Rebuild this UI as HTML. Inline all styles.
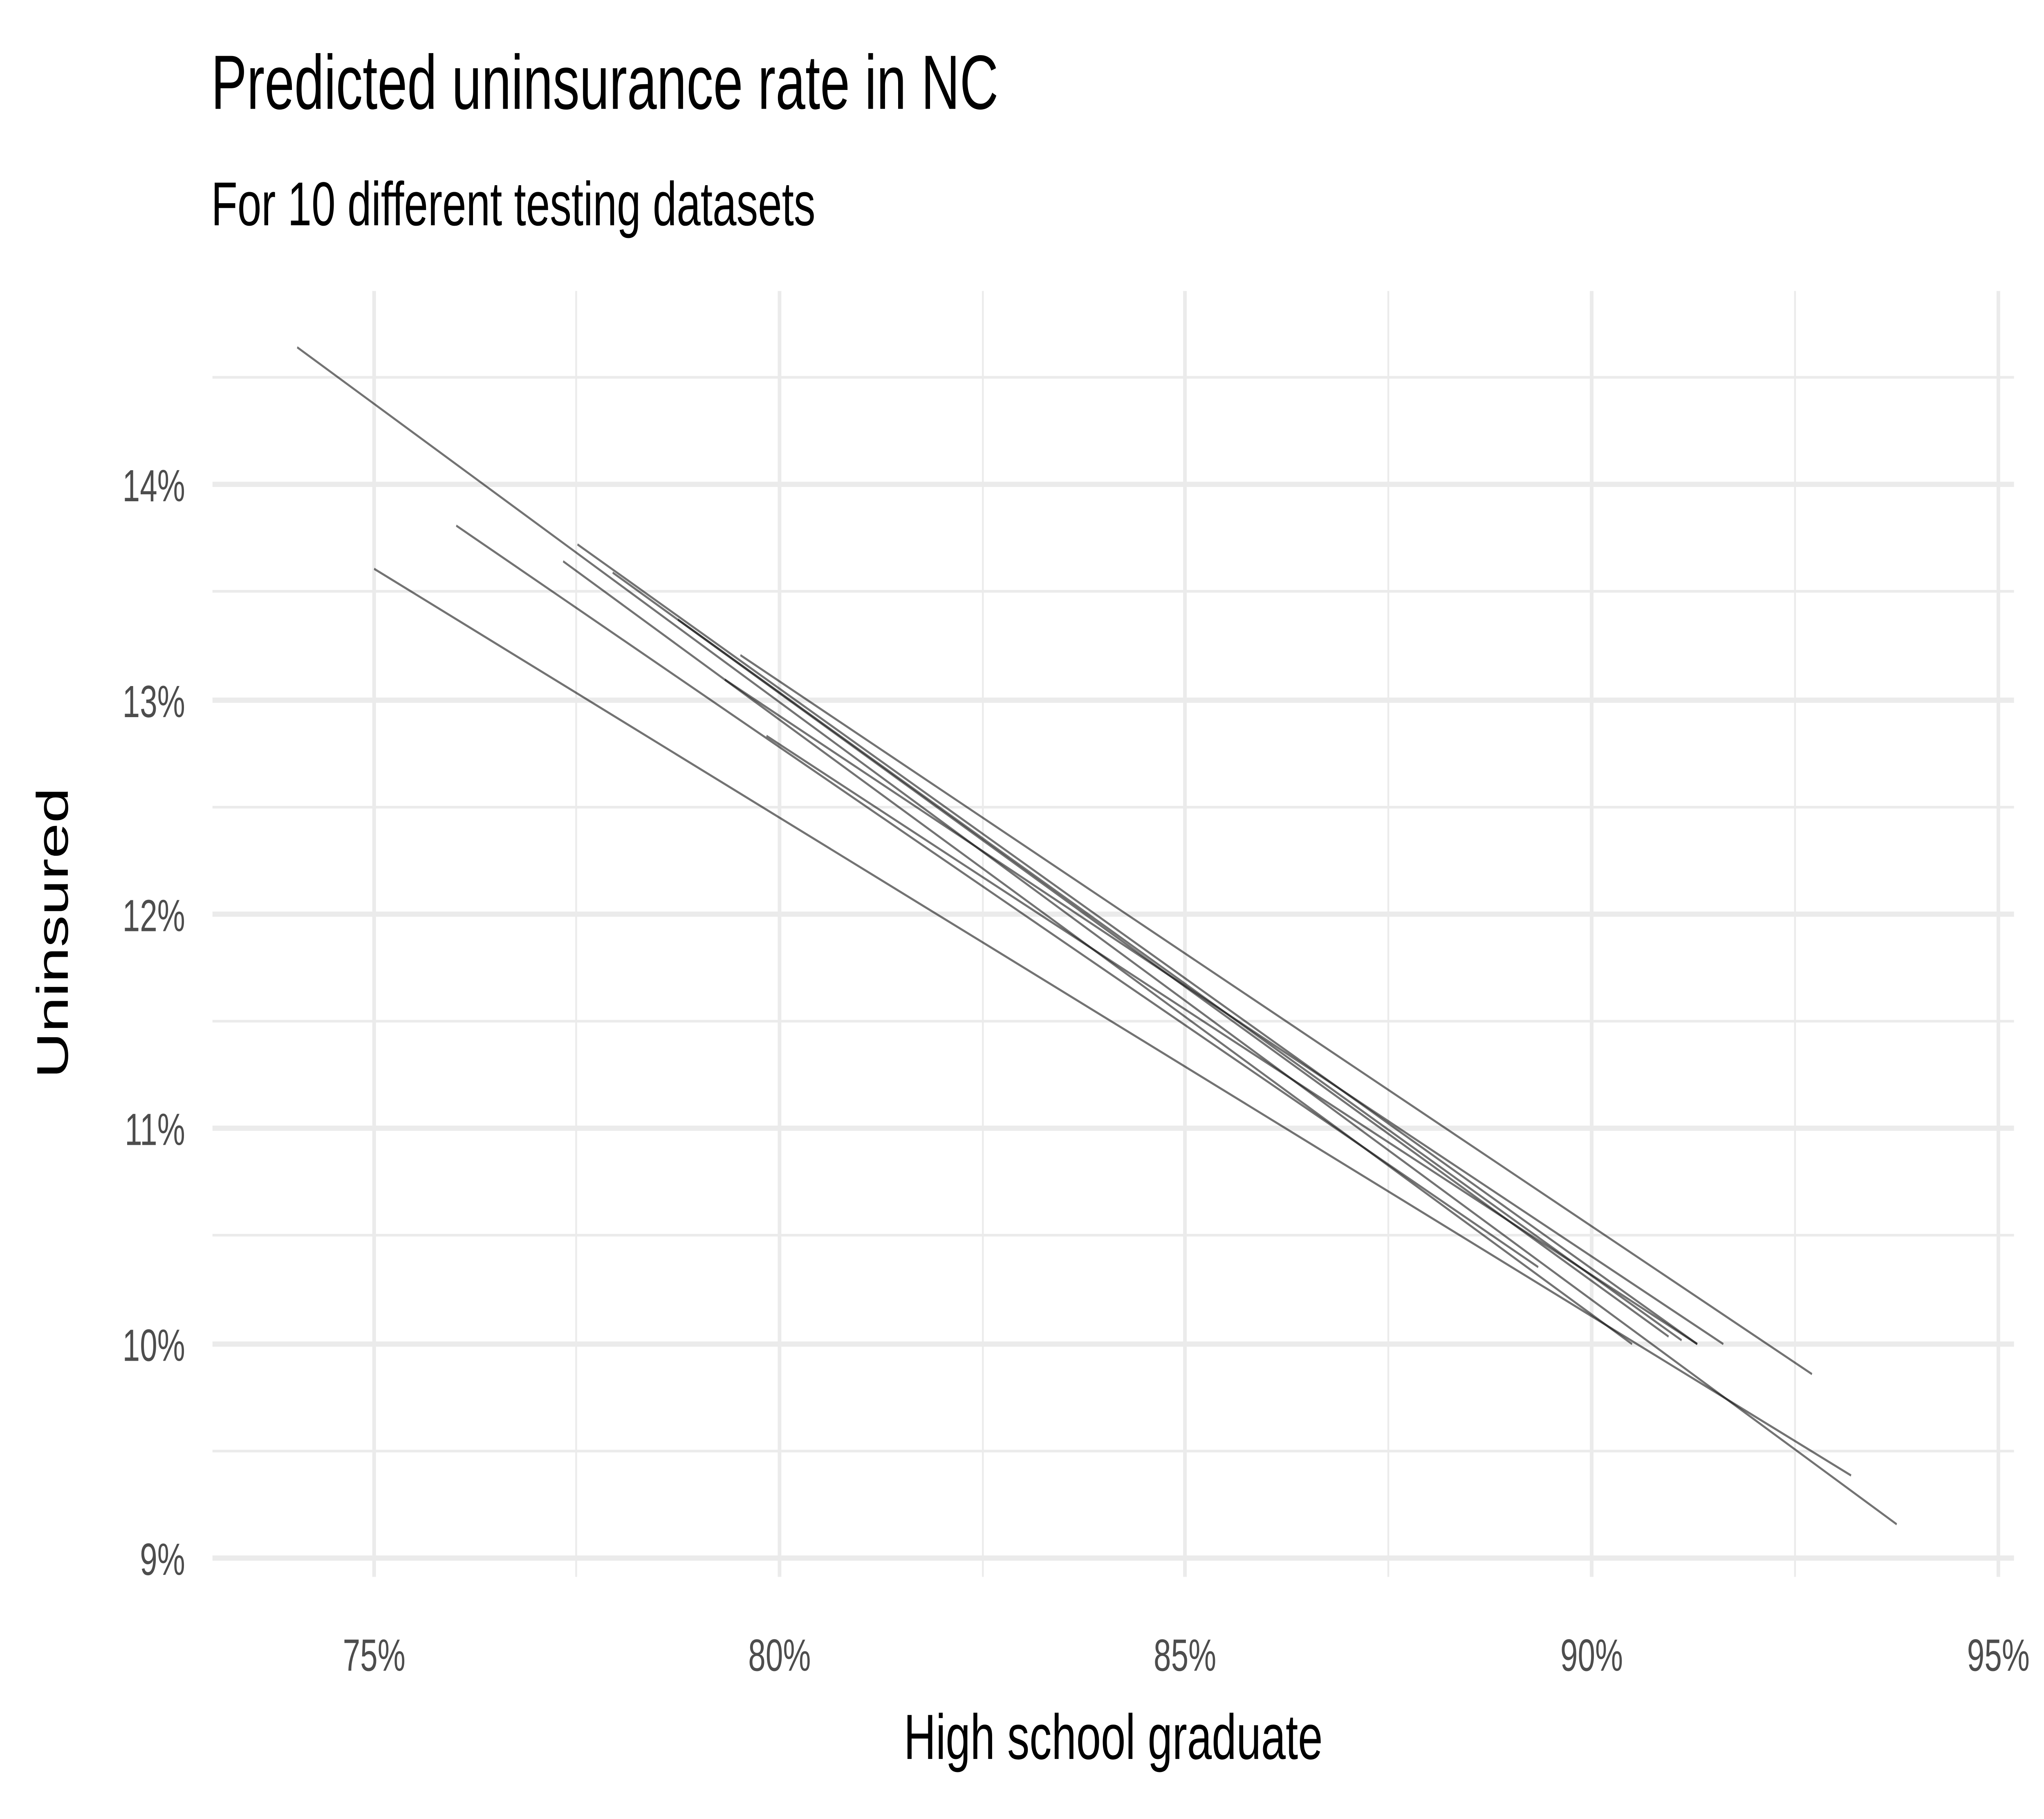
<!DOCTYPE html>
<html><head><style>html,body{margin:0;padding:0;background:#fff;width:100%;height:100%;overflow:hidden}svg{display:block;position:absolute;left:0;top:0;width:100vw;height:100vh}</style></head><body>
<svg viewBox="0 0 1568 969" preserveAspectRatio="none" xmlns="http://www.w3.org/2000/svg" font-family="Liberation Sans, Arial, sans-serif">
<g stroke="#ebebeb" stroke-width="1.4">
<line x1="442" y1="155" x2="442" y2="840"/><line x1="754" y1="155" x2="754" y2="840"/><line x1="1065" y1="155" x2="1065" y2="840"/><line x1="1377" y1="155" x2="1377" y2="840"/>
<line x1="163" y1="201" x2="1545" y2="201"/><line x1="163" y1="315" x2="1545" y2="315"/><line x1="163" y1="430" x2="1545" y2="430"/><line x1="163" y1="544" x2="1545" y2="544"/><line x1="163" y1="658" x2="1545" y2="658"/><line x1="163" y1="773" x2="1545" y2="773"/>
</g>
<g stroke="#ebebeb" stroke-width="2.8">
<line x1="287" y1="155" x2="287" y2="840"/><line x1="598" y1="155" x2="598" y2="840"/><line x1="909" y1="155" x2="909" y2="840"/><line x1="1221" y1="155" x2="1221" y2="840"/><line x1="1533" y1="155" x2="1533" y2="840"/>
<line x1="163" y1="258" x2="1545" y2="258"/><line x1="163" y1="373" x2="1545" y2="373"/><line x1="163" y1="487" x2="1545" y2="487"/><line x1="163" y1="601" x2="1545" y2="601"/><line x1="163" y1="716" x2="1545" y2="716"/><line x1="163" y1="830" x2="1545" y2="830"/>
</g>
<g stroke="#000" stroke-opacity="0.55" stroke-width="1.2">
<line x1="228" y1="185" x2="1455" y2="812"/>
<line x1="287" y1="303" x2="1420" y2="786"/>
<line x1="350" y1="280" x2="1180" y2="675"/>
<line x1="432" y1="299" x2="1252" y2="716"/>
<line x1="443" y1="290" x2="1302" y2="716"/>
<line x1="556" y1="362" x2="1322" y2="716"/>
<line x1="568" y1="349" x2="1390" y2="732"/>
<line x1="588" y1="392" x2="1302" y2="716"/>
<line x1="470" y1="305" x2="1280" y2="712"/>
<line x1="520" y1="330" x2="1290" y2="714"/>
</g>
<g fill="#4d4d4d" font-size="24" text-anchor="end">
<text x="142" y="267">14%</text><text x="142" y="382">13%</text><text x="142" y="496">12%</text><text x="142" y="610">11%</text><text x="142" y="725">10%</text><text x="142" y="839">9%</text>
</g>
<g fill="#4d4d4d" font-size="24" text-anchor="middle">
<text x="287" y="890">75%</text><text x="598" y="890">80%</text><text x="909" y="890">85%</text><text x="1221" y="890">90%</text><text x="1533" y="890">95%</text>
</g>
<text x="854" y="937" font-size="34" text-anchor="middle">High school graduate</text>
<text transform="translate(52,497) rotate(-90)" font-size="34" text-anchor="middle">Uninsured</text>
<text x="162" y="58" font-size="41">Predicted uninsurance rate in NC</text>
<text x="162" y="120" font-size="33">For 10 different testing datasets</text>
</svg>
</body></html>
